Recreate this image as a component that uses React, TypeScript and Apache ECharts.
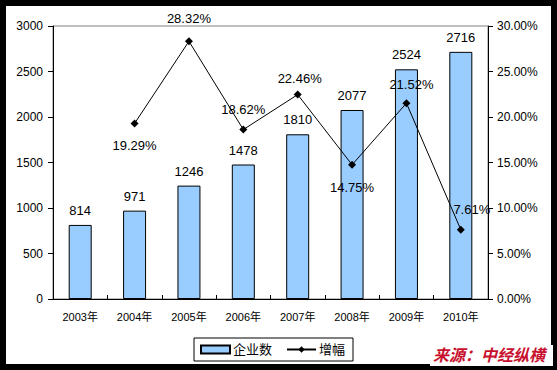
import React, { useEffect, useRef } from "react";
import * as echarts from "echarts";

const categories = ["2003年", "2004年", "2005年", "2006年", "2007年", "2008年", "2009年", "2010年"];
const companyCounts = [814, 971, 1246, 1478, 1810, 2077, 2524, 2716];
const growthRates: (number | null)[] = [null, 19.29, 28.32, 18.62, 22.46, 14.75, 21.52, 7.61];
const growthLabelPlacement = ["top", "bottom", "top", "top", "top", "bottom", "top", "top"];
const growthLabelOffsets: [number, number][] = [[0, 0], [0, 2], [0, -2], [0, 0], [2, 4], [0, 2], [5, 2], [11, 0]];

const FONT = "'Liberation Sans', Arial, sans-serif";
const CJK = "'Liberation Sans', 'Noto Sans CJK SC', sans-serif";

export default function App() {
  const ref = useRef<HTMLDivElement>(null);
  useEffect(() => {
    const chart = echarts.init(ref.current!, undefined, { renderer: "svg" });
    const lineData = growthRates.map((v, i) =>
      v === null
        ? "-"
        : {
            value: v,
            label: {
              position: growthLabelPlacement[i] as any,
              distance: 10,
              offset: growthLabelOffsets[i],
            },
          }
    );
    chart.setOption({
      animation: false,
      backgroundColor: "#000",
      textStyle: { fontFamily: FONT },
      graphic: [
        { type: "rect", shape: { x: 6, y: 6, width: 545, height: 358 }, style: { fill: "#fff" }, z: -10 },
        { type: "rect", shape: { x: 430, y: 345, width: 123, height: 21 }, style: { fill: "#fff" }, z: 100 },
        {
          type: "text",
          left: 433,
          top: 346,
          z: 101,
          style: {
            text: "来源：中经纵横",
            fill: "#c8102e",
            font: "italic bold 16px 'Noto Sans CJK SC', sans-serif",
          },
        },
      ],
      grid: {
        left: 53,
        right: 69,
        top: 26,
        bottom: 71,
        show: true,
        borderColor: "#808080",
        borderWidth: 1,
        backgroundColor: "transparent",
      },
      legend: {
        left: 194,
        top: 338,
        width: 153,
        height: 19,
        padding: [5, 8, 5, 6],
        itemGap: 14,
        itemWidth: 29,
        itemHeight: 8,
        borderColor: "#000",
        borderWidth: 1,
        backgroundColor: "#fff",
        textStyle: { fontFamily: CJK, fontSize: 13, color: "#000", padding: [0, 0, 0, -2] },
        data: [
          { name: "企业数", icon: "rect" },
          { name: "增幅" },
        ],
      },
      xAxis: {
        type: "category",
        data: categories,
        axisLine: { lineStyle: { color: "#000", width: 1 } },
        axisTick: { show: true, inside: true, length: 4, lineStyle: { color: "#000" } },
        axisLabel: { color: "#000", fontSize: 11, fontFamily: CJK, margin: 12 },
        splitLine: { show: false },
      },
      yAxis: [
        {
          type: "value",
          min: 0,
          max: 3000,
          interval: 500,
          axisLine: { show: true, lineStyle: { color: "#000" } },
          axisTick: { show: true, length: 5, lineStyle: { color: "#000" } },
          axisLabel: { color: "#000", fontSize: 12, margin: 10, formatter: (v: number) => String(v) },
          splitLine: { show: false },
        },
        {
          type: "value",
          min: 0,
          max: 30,
          interval: 5,
          position: "right",
          axisLine: { show: true, lineStyle: { color: "#000" } },
          axisTick: { show: true, length: 5, lineStyle: { color: "#000" } },
          axisLabel: {
            color: "#000",
            fontSize: 12,
            margin: 9,
            formatter: (v: number) => v.toFixed(2) + "%",
          },
          splitLine: { show: false },
        },
      ],
      series: [
        {
          name: "企业数",
          type: "bar",
          data: companyCounts,
          barWidth: 23,
          itemStyle: { color: "#99ccff", borderColor: "#000", borderWidth: 1 },
          label: { show: true, position: "top", distance: 8, color: "#000", fontSize: 13 },
        },
        {
          name: "增幅",
          type: "line",
          yAxisIndex: 1,
          data: lineData,
          connectNulls: false,
          symbol: "diamond",
          symbolSize: 8,
          lineStyle: { color: "#000", width: 1 },
          itemStyle: { color: "#000" },
          label: {
            show: true,
            color: "#000",
            fontSize: 13,
            formatter: (p: any) => Number(p.value).toFixed(2) + "%",
          },
          z: 5,
        },
      ],
    });
    return () => chart.dispose();
  }, []);
  return (
    <div
      ref={ref}
      style={{ position: "absolute", left: 0, top: 0, width: 557, height: 370 }}
    />
  );
}
